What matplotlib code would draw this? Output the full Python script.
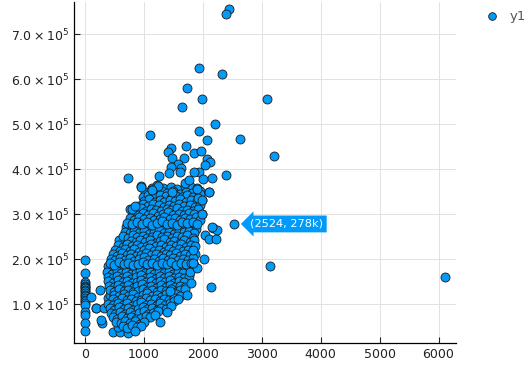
import matplotlib
matplotlib.use("Agg")
import matplotlib.pyplot as plt
from matplotlib.ticker import FuncFormatter

# basement area (sq ft) vs sale price (thousands)
no_bsmt = [(0, 199), (0, 169), (0, 148), (0, 145), (0, 141), (0, 138), (0, 135),
           (0, 131), (0, 128), (0, 124), (0, 120), (0, 117), (0, 113), (0, 110),
           (0, 106), (0, 102), (0, 98), (0, 82), (0, 76), (0, 58), (0, 40)]

left_edge = [(102, 116), (262, 132), (194, 91), (182, 92), (290, 59), (279, 64),
             (392, 113), (319, 91), (477, 37), (603, 37), (727, 36), (562, 49),
             (404, 182), (392, 184), (421, 121), (579, 242)]

core_hi = [
    (960, 362), (1140, 357), (1230, 364), (1330, 358), (1470, 361), (1560, 356), (1700, 363), (1800, 359), (1900, 357),
    (1020, 348), (1120, 353), (1220, 347), (1310, 352), (1400, 346), (1500, 351), (1610, 345), (1720, 350), (1820, 347), (1950, 352), (2100, 349),
    (980, 338), (1070, 342), (1180, 337), (1280, 343), (1370, 339), (1460, 336), (1540, 341), (1650, 338), (1740, 343), (1830, 337), (1940, 340),
    (1000, 328), (1090, 333), (1190, 327), (1270, 331), (1350, 326), (1440, 332), (1530, 329), (1620, 334), (1710, 327), (1800, 331), (1900, 328), (1995, 332),
    (900, 318), (990, 323), (1080, 317), (1160, 322), (1250, 319), (1340, 316), (1430, 321), (1520, 318), (1600, 323), (1690, 317), (1780, 320), (1870, 316), (1960, 321),
    (770, 311), (850, 308), (950, 313), (1040, 307), (1120, 312), (1210, 309), (1300, 306), (1390, 311), (1470, 308), (1560, 313), (1650, 307), (1740, 310), (1830, 306), (1920, 312),
    (815, 301), (900, 297), (990, 303), (1070, 298), (1150, 302), (1240, 296), (1330, 300), (1410, 304), (1500, 298), (1590, 301), (1680, 297), (1760, 303), (1850, 299), (1980, 301),
    (760, 291), (840, 287), (920, 293), (1010, 288), (1100, 292), (1180, 286), (1270, 290), (1350, 294), (1440, 288), (1530, 291), (1620, 286), (1700, 292), (1790, 289), (1880, 293), (1950, 287),
    (720, 281), (800, 277), (890, 283), (970, 278), (1050, 282), (1140, 276), (1220, 280), (1310, 284), (1390, 278), (1480, 281), (1570, 276), (1650, 282), (1740, 279), (1830, 283), (1900, 277),
]

core_mid = [
    (705, 271), (780, 267), (860, 273), (940, 268), (1020, 272), (1110, 266), (1190, 270), (1280, 274), (1360, 268), (1450, 271), (1530, 266), (1610, 272), (1700, 269), (1790, 273), (1880, 267),
    (680, 261), (760, 257), (840, 263), (920, 258), (1000, 262), (1090, 256), (1170, 260), (1250, 264), (1340, 258), (1420, 261), (1510, 256), (1590, 262), (1680, 259), (1770, 263), (1860, 257),
    (650, 251), (730, 247), (810, 253), (890, 248), (980, 252), (1060, 246), (1140, 250), (1230, 254), (1310, 248), (1400, 251), (1480, 246), (1570, 252), (1650, 249), (1740, 253), (1830, 247),
    (790, 241), (860, 237), (940, 243), (1020, 238), (1100, 242), (1190, 236), (1270, 240), (1350, 244), (1440, 238), (1520, 241), (1610, 236), (1690, 242), (1780, 239), (1860, 243),
    (560, 231), (640, 227), (720, 233), (800, 228), (880, 232), (960, 226), (1050, 230), (1130, 234), (1210, 228), (1300, 231), (1380, 226), (1460, 232), (1550, 229), (1630, 233), (1720, 227), (1800, 231), (1870, 228),
    (520, 221), (600, 217), (680, 223), (760, 218), (840, 222), (920, 216), (1010, 220), (1090, 224), (1170, 218), (1250, 221), (1340, 216), (1420, 222), (1500, 219), (1590, 223), (1670, 217), (1750, 221), (1840, 218),
    (470, 211), (550, 207), (630, 213), (710, 208), (790, 212), (870, 206), (960, 210), (1040, 214), (1120, 208), (1200, 211), (1290, 206), (1370, 212), (1450, 209), (1540, 213), (1620, 207), (1700, 211), (1790, 208), (1870, 212),
    (440, 201), (520, 197), (600, 203), (680, 198), (760, 202), (840, 196), (920, 200), (1000, 204), (1080, 198), (1170, 201), (1250, 196), (1330, 202), (1410, 199), (1500, 203), (1580, 197), (1660, 201), (1750, 198), (1840, 202),
    (420, 191), (500, 187), (580, 193), (660, 188), (740, 192), (820, 186), (900, 190), (980, 194), (1060, 188), (1140, 191), (1220, 186), (1310, 192), (1390, 189), (1470, 193), (1550, 187), (1640, 191), (1720, 188), (1800, 192), (1860, 187),
]

core_lo = [
    (470, 181), (550, 177), (630, 183), (710, 178), (790, 182), (870, 176), (950, 180), (1030, 184), (1110, 178), (1190, 181), (1270, 176), (1350, 182), (1430, 179), (1520, 183), (1600, 177), (1680, 181), (1760, 178),
    (380, 171), (460, 167), (540, 173), (620, 168), (700, 172), (780, 166), (860, 170), (940, 174), (1020, 168), (1100, 171), (1180, 166), (1260, 172), (1340, 169), (1420, 173), (1500, 167), (1580, 171), (1660, 168),
    (390, 161), (470, 157), (550, 163), (630, 158), (710, 162), (790, 156), (870, 160), (950, 164), (1030, 158), (1110, 161), (1190, 156), (1270, 162), (1350, 159), (1430, 163), (1510, 157), (1590, 161), (1680, 158), (1760, 162),
    (400, 151), (480, 147), (560, 153), (640, 148), (720, 152), (800, 146), (880, 150), (960, 154), (1040, 148), (1120, 151), (1200, 146), (1280, 152), (1360, 149), (1440, 153), (1520, 147), (1600, 151), (1690, 148),
    (410, 141), (490, 137), (570, 143), (650, 138), (730, 142), (810, 136), (890, 140), (970, 144), (1050, 138), (1130, 141), (1210, 136), (1290, 142), (1370, 139), (1450, 143), (1530, 137), (1610, 141), (1700, 138),
    (420, 131), (500, 127), (580, 133), (660, 128), (740, 132), (820, 126), (900, 130), (980, 134), (1060, 128), (1140, 131), (1220, 126), (1300, 132), (1380, 129), (1460, 133), (1540, 127), (1620, 131), (1700, 134),
    (500, 121), (580, 117), (660, 123), (740, 118), (820, 122), (900, 116), (980, 120), (1060, 124), (1140, 118), (1220, 121), (1300, 116), (1380, 122), (1460, 119), (1540, 123), (1620, 117),
    (470, 111), (550, 107), (630, 113), (710, 108), (790, 112), (870, 106), (950, 110), (1030, 114), (1110, 108), (1190, 111), (1270, 106), (1350, 112), (1430, 109), (1510, 113),
    (400, 101), (480, 97), (560, 103), (640, 98), (720, 102), (800, 96), (880, 100), (960, 104), (1040, 98), (1120, 101), (1200, 96), (1280, 102), (1360, 99), (1440, 103), (1520, 106),
    (420, 91), (500, 87), (580, 93), (660, 88), (740, 92), (820, 86), (900, 90), (980, 94), (1060, 88), (1140, 91), (1220, 86), (1300, 92), (1380, 89), (1460, 95),
    (440, 81), (520, 77), (600, 83), (680, 78), (760, 82), (840, 76), (920, 80), (1000, 84), (1080, 78), (1160, 81), (1240, 84),
    (470, 71), (550, 67), (630, 73), (710, 68), (790, 72), (870, 66), (950, 70), (1030, 74), (1110, 72), (1190, 76),
    (530, 61), (610, 57), (690, 63), (770, 58), (850, 62), (930, 56), (1010, 60),
    (640, 51), (720, 47), (800, 53), (880, 48), (960, 52), (850, 40),
]

upper = [(1108, 475), (1932, 484), (2215, 501), (2078, 464), (2635, 467), (1721, 452),
         (1455, 446), (1404, 438), (1472, 425), (1681, 425), (1847, 436), (1976, 439),
         (2078, 422), (2124, 415), (2034, 410), (2392, 386), (727, 381), (1584, 412),
         (1460, 404), (1630, 402), (1426, 391), (1613, 394), (1261, 384), (1932, 394),
         (1852, 393), (1704, 368), (1761, 376), (2010, 378), (2158, 379), (961, 359),
         (1233, 363), (1136, 354), (1472, 349), (1954, 344), (2112, 350), (1898, 356),
         (1926, 336), (801, 312), (852, 317), (1994, 332)]

right_edge = [(2039, 254), (2113, 244), (2227, 244), (2170, 269), (2238, 265), (2153, 272),
              (1840, 221), (2028, 201), (2136, 138), (1386, 82), (1273, 61), (1727, 121),
              (1585, 112), (1795, 147), (1784, 172), (1908, 180), (1840, 191), (1441, 128),
              (1983, 301)]

outliers = [(2448, 755), (2396, 745), (1932, 625), (2334, 611), (1738, 581), (1988, 556),
            (1647, 538), (3095, 555), (3203, 430), (3141, 184), (6116, 160), (2524, 278)]

pts = no_bsmt + left_edge + core_lo + core_mid + core_hi + upper + right_edge + outliers
x = [p[0] for p in pts]
y = [p[1] * 1000 for p in pts]

plt.rcParams['font.family'] = ['DejaVu Sans']
plt.rcParams['mathtext.fontset'] = 'dejavusans'
plt.rcParams['mathtext.default'] = 'regular'

fig = plt.figure(figsize=(5.28, 3.87), dpi=100)
ax = fig.add_axes([0.140, 0.1137, 0.724, 0.881])

ax.scatter(x, y, s=42, color='#009AFA', edgecolors='#1a1a1a', linewidths=0.6,
           zorder=3, label='y1')

ax.set_xlim(-185, 6300)
ax.set_ylim(13500, 771000)
ax.set_xticks(range(0, 7000, 1000))
ax.set_yticks([1e5, 2e5, 3e5, 4e5, 5e5, 6e5, 7e5])
ax.yaxis.set_major_formatter(FuncFormatter(lambda v, p: r'$%.1f\times10^{5}$' % (v / 1e5)))

ax.grid(True, color='#e2e2e2', linewidth=0.7, zorder=0)
for s in ['top', 'right']:
    ax.spines[s].set_visible(False)
for s in ['left', 'bottom']:
    ax.spines[s].set_linewidth(0.9)
ax.tick_params(direction='in', length=4, width=0.8, labelsize=9, colors='#222222')

ax.annotate('(2524, 278k)', xy=(2524, 278000), xytext=(12, 0), textcoords='offset points',
            va='center', ha='left', color='white', fontsize=8.2,
            bbox=dict(boxstyle='larrow,pad=0.3', fc='#009AFA', ec='none'), zorder=5)

fig.legend(loc='upper left', bbox_to_anchor=(0.885, 1.005), frameon=False, fontsize=9.5,
           handletextpad=0.3, labelcolor='#555555', markerscale=0.85)

fig.savefig('out.png', dpi=100)
